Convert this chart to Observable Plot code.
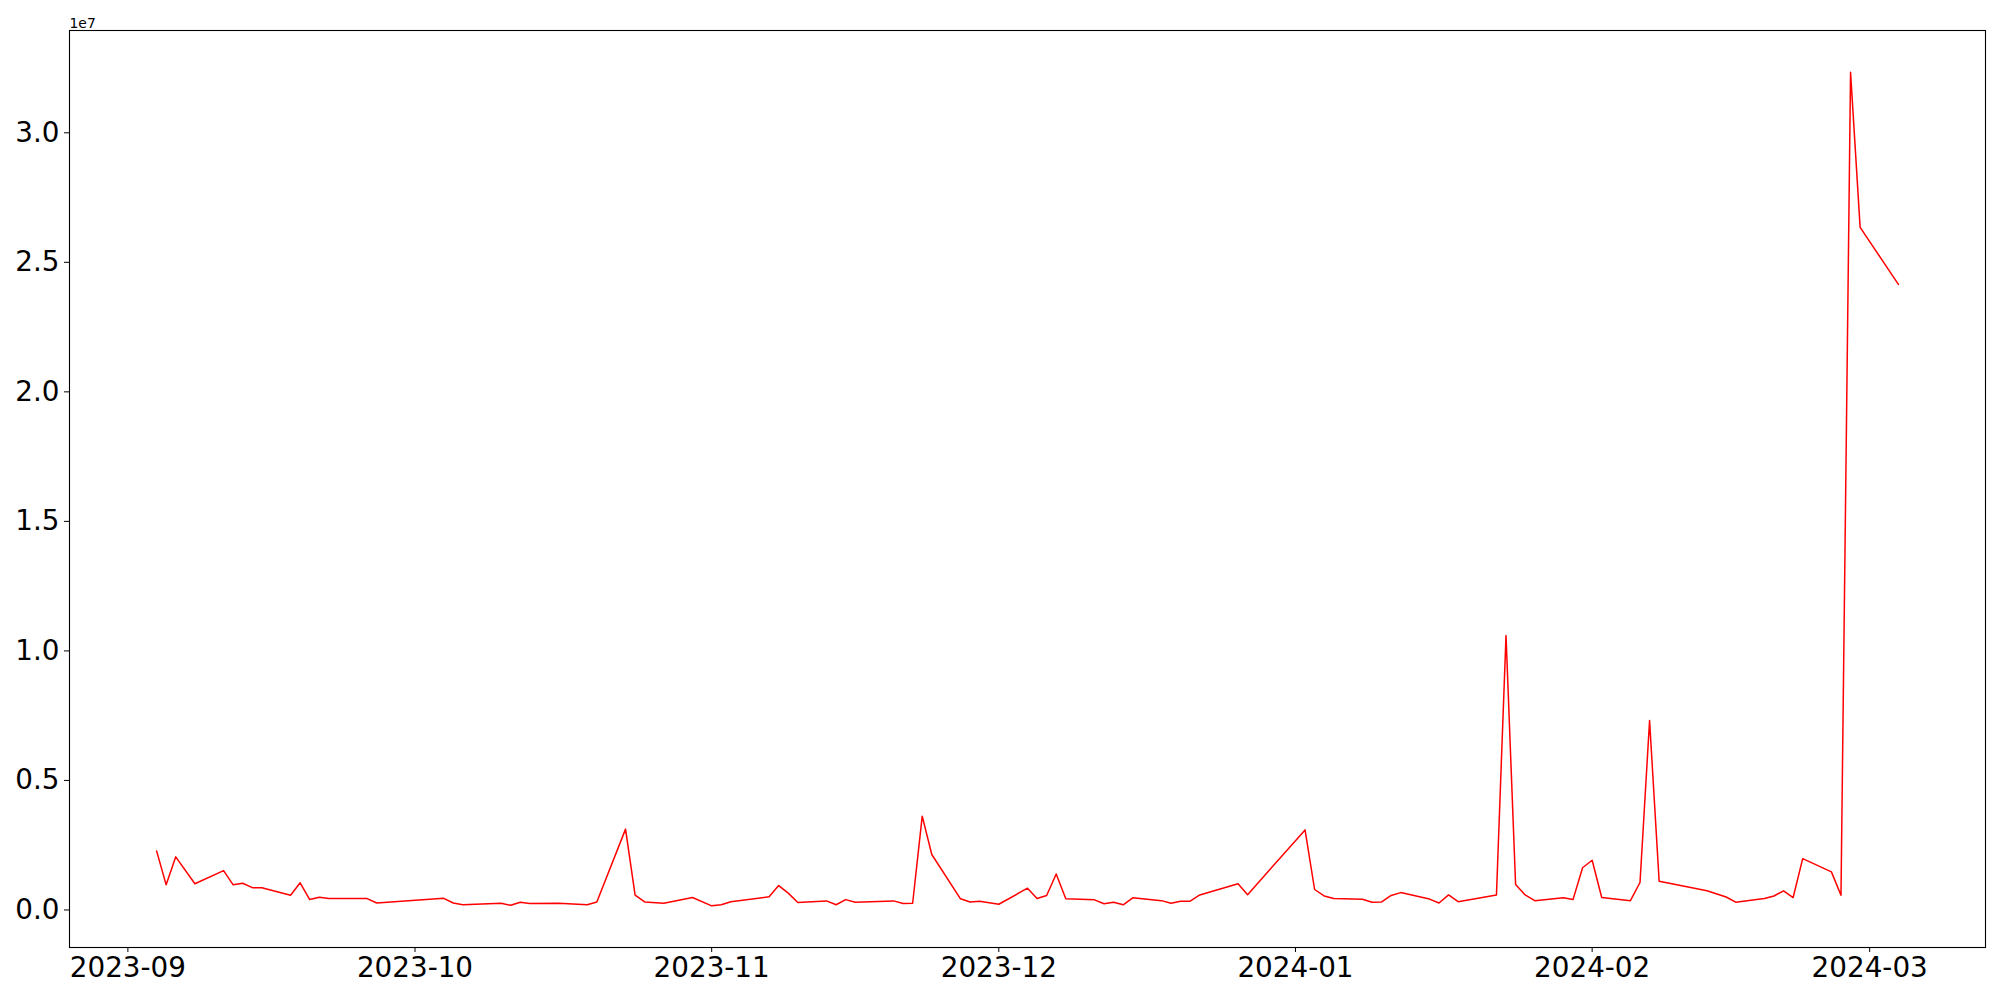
<!DOCTYPE html>
<html><head><meta charset="utf-8">
<script src="https://cdn.jsdelivr.net/npm/d3@7"></script>
<script src="https://cdn.jsdelivr.net/npm/@observablehq/plot@0.6"></script>
<style>body{margin:0;background:#fff;}</style>
</head><body><div id="chart"></div>
<script>
const dates = [
"2023-09-04","2023-09-05","2023-09-06","2023-09-08","2023-09-11","2023-09-12","2023-09-13","2023-09-14","2023-09-15",
"2023-09-18","2023-09-19","2023-09-20","2023-09-21","2023-09-22","2023-09-26","2023-09-27",
"2023-10-04","2023-10-05","2023-10-06","2023-10-10","2023-10-11","2023-10-12","2023-10-13","2023-10-16","2023-10-19","2023-10-20",
"2023-10-23","2023-10-24","2023-10-25","2023-10-27","2023-10-30",
"2023-11-01","2023-11-02","2023-11-03","2023-11-07","2023-11-08","2023-11-09","2023-11-10","2023-11-13","2023-11-14","2023-11-15","2023-11-16",
"2023-11-20","2023-11-21","2023-11-22","2023-11-23","2023-11-24","2023-11-27","2023-11-28","2023-11-29",
"2023-12-01","2023-12-04","2023-12-05","2023-12-06","2023-12-07","2023-12-08","2023-12-11","2023-12-12","2023-12-13","2023-12-14","2023-12-15",
"2023-12-18","2023-12-19","2023-12-20","2023-12-21","2023-12-22","2023-12-26","2023-12-27",
"2024-01-02","2024-01-03","2024-01-04","2024-01-05","2024-01-08","2024-01-09","2024-01-10","2024-01-11","2024-01-12",
"2024-01-15","2024-01-16","2024-01-17","2024-01-18","2024-01-22","2024-01-23","2024-01-24","2024-01-25","2024-01-26",
"2024-01-29","2024-01-30","2024-01-31","2024-02-01","2024-02-02","2024-02-05","2024-02-06","2024-02-07","2024-02-08",
"2024-02-13","2024-02-15","2024-02-16","2024-02-19","2024-02-20","2024-02-21","2024-02-22","2024-02-23",
"2024-02-26","2024-02-27","2024-02-28","2024-02-29","2024-03-04"
];
const values = [
2280000,970000,2050000,1010000,1520000,970000,1030000,860000,860000,
570000,1050000,400000,490000,440000,440000,270000,
450000,270000,200000,260000,180000,300000,250000,260000,200000,310000,
3120000,570000,310000,260000,480000,
160000,200000,320000,510000,940000,650000,290000,350000,200000,400000,300000,
350000,250000,260000,3620000,2140000,430000,310000,340000,
220000,840000,440000,560000,1390000,430000,390000,240000,300000,200000,470000,
360000,260000,340000,340000,580000,1010000,590000,
3090000,790000,540000,440000,410000,300000,310000,560000,670000,
420000,270000,580000,320000,580000,10590000,980000,580000,360000,
470000,400000,1630000,1920000,480000,360000,1060000,7310000,1110000,
740000,500000,300000,440000,540000,740000,480000,1980000,
1470000,570000,32340000,26350000,24150000
];
const xTickDates = ["2023-09-01","2023-10-01","2023-11-01","2023-12-01","2024-01-01","2024-02-01","2024-03-01"];
const yTicks = [0, 5e6, 1e7, 1.5e7, 2e7, 2.5e7, 3e7];
const offsetLabel = "1e7";

const data = dates.map((d, i) => ({date: new Date(d + "T00:00:00Z"), value: values[i]}));
const [x0, x1] = d3.extent(data, d => d.date);
const xpad = (x1 - x0) * 0.05;
const [y0, y1] = d3.extent(values);
const ypad = (y1 - y0) * 0.05;

const chart = Plot.plot({
  width: 2000, height: 1000,
  marginLeft: 69, marginRight: 15, marginTop: 30, marginBottom: 53,
  style: {fontFamily: "DejaVu Sans", fontSize: "27.8px", color: "#000", background: "#fff", overflow: "visible"},
  x: {type: "utc", domain: [new Date(+x0 - xpad), new Date(+x1 + xpad)]},
  y: {domain: [y0 - ypad, y1 + ypad]},
  marks: [
    Plot.line(data, {x: "date", y: "value", stroke: "red", strokeWidth: 1.5}),
    Plot.frame({stroke: "#000", strokeWidth: 1.1}),
    Plot.axisX({ticks: xTickDates.map(d => new Date(d + "T00:00:00Z")), tickFormat: d3.utcFormat("%Y-%m"),
      tickSize: 5, tickPadding: 5, fontSize: 27.8, label: null, stroke: "#000"}),
    Plot.axisY({ticks: yTicks, tickFormat: d => (d / 1e7).toFixed(1),
      tickSize: 5, tickPadding: 5, fontSize: 27.8, label: null, stroke: "#000"}),
    Plot.text([offsetLabel], {frameAnchor: "top-left", text: d => d, textAnchor: "start", lineAnchor: "bottom", dy: -3, fontSize: 13.9})
  ]
});
document.getElementById("chart").appendChild(chart);
</script>
</body></html>
